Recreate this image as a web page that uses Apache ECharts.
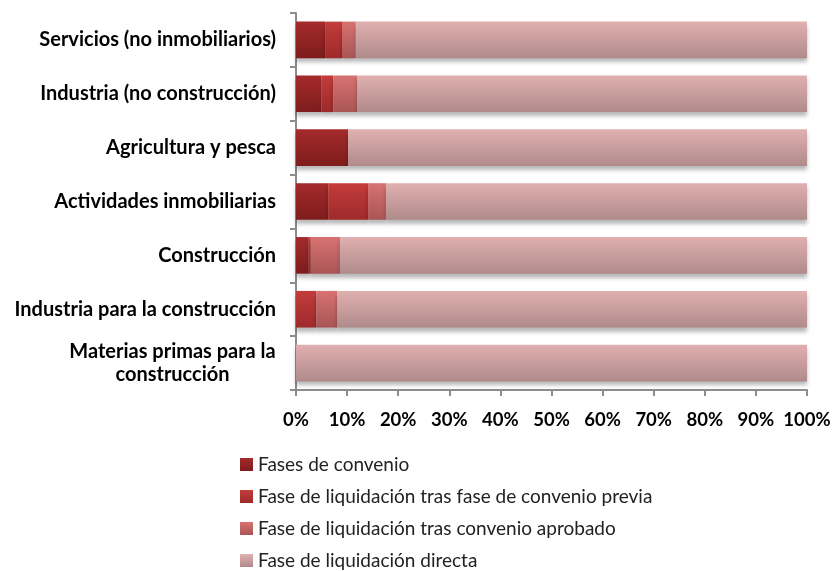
<!DOCTYPE html>
<html>
<head>
<meta charset="utf-8">
<script src="https://cdn.jsdelivr.net/npm/echarts@6/dist/echarts.min.js"></script>
<style>
  html, body { margin: 0; padding: 0; background: #ffffff; }
  #chart { width: 832px; height: 571px; }
</style>
</head>
<body>
<div id="chart"></div>
<script>
// Sectors, top to bottom
const categories = [
  'Servicios (no inmobiliarios)',
  'Industria (no construcción)',
  'Agricultura y pesca',
  'Actividades inmobiliarias',
  'Construcción',
  'Industria para la construcción',
  'Materias primas para la construcción'
];

// Share of each procedure phase (%)
const fasesConvenio        = [5.7, 5.0, 10.2, 6.3, 2.5, 0.0, 0.0];
const liquidacionTrasFase  = [3.3, 2.3, 0.0, 7.8, 0.4, 4.0, 0.0];
const liquidacionTrasConv  = [2.7, 4.7, 0.0, 3.5, 5.7, 4.1, 0.0];
const liquidacionDirecta   = [88.3, 88.0, 89.8, 82.4, 91.4, 91.9, 100.0];

const seriesNames = [
  'Fases de convenio',
  'Fase de liquidación tras fase de convenio previa',
  'Fase de liquidación tras convenio aprobado',
  'Fase de liquidación directa'
];
const seriesData = [fasesConvenio, liquidacionTrasFase, liquidacionTrasConv, liquidacionDirecta];

// top / bottom shades of each phase
const shades = [
  ['#a52b2b', '#7e1c1c'],
  ['#c43c3c', '#9e2a2a'],
  ['#d87272', '#a95555'],
  ['#e1b0b0', '#b08a8a']
];
const gradient = i => new echarts.graphic.LinearGradient(0, 0, 0, 1, [
  { offset: 0, color: shades[i][0] },
  { offset: 1, color: shades[i][1] }
]);

const font = 'Lato, "Open Sans", sans-serif';
const labelSize = 20;

// the two-line category label is centred within the width of its first line
const measureCtx = document.createElement('canvas').getContext('2d');
measureCtx.font = 'bold ' + labelSize + 'px ' + font;
const wrapFirst = 'Materias primas para la';
const wrapSecond = 'construcción';
const wrapWidth = Math.ceil(measureCtx.measureText(wrapFirst).width);

const chart = echarts.init(document.getElementById('chart'));
chart.setOption({
  animation: false,
  textStyle: { fontFamily: font },
  grid: { left: 296, right: 25, top: 13, bottom: 181, containLabel: false, outerBoundsMode: 'none' },
  legend: {
    orient: 'vertical',
    left: 240,
    top: 455,
    padding: 0,
    itemWidth: 13,
    itemHeight: 13,
    itemGap: 13,
    icon: 'rect',
    textStyle: { fontFamily: font, fontSize: 19, color: '#222222' },
    data: seriesNames.map((n, i) => ({ name: n, itemStyle: { color: gradient(i) } }))
  },
  xAxis: {
    type: 'value',
    min: 0,
    max: 100,
    interval: 10,
    axisLine: { show: true, lineStyle: { color: '#8c8c8c', width: 2 } },
    axisTick: { show: true, length: 6, lineStyle: { color: '#8c8c8c', width: 2 } },
    splitLine: { show: false },
    axisLabel: {
      margin: 21,
      formatter: v => v + '%',
      fontFamily: font,
      fontWeight: 'bold',
      fontSize: 18.5,
      color: '#000'
    }
  },
  yAxis: {
    type: 'category',
    inverse: true,
    data: categories,
    axisLine: { show: true, lineStyle: { color: '#8c8c8c', width: 2 } },
    axisTick: { show: true, length: 6, inside: false, lineStyle: { color: '#8c8c8c', width: 2 } },
    axisLabel: {
      margin: 20,
      fontFamily: font,
      fontWeight: 'bold',
      fontSize: labelSize,
      color: '#000',
      formatter: v => v === categories[6]
        ? '{c|' + wrapFirst + '}\n{c|' + wrapSecond + '}'
        : v,
      rich: {
        c: { width: wrapWidth, align: 'center', fontFamily: font, fontWeight: 'bold', fontSize: labelSize, color: '#000', lineHeight: 23 }
      }
    }
  },
  series: seriesData.map((d, i) => ({
    name: seriesNames[i],
    type: 'bar',
    stack: 'total',
    barWidth: '68%',
    data: d,
    itemStyle: {
      color: gradient(i),
      shadowColor: 'rgba(0,0,0,0.28)',
      shadowBlur: 4,
      shadowOffsetY: 4
    }
  }))
});
</script>
</body>
</html>
